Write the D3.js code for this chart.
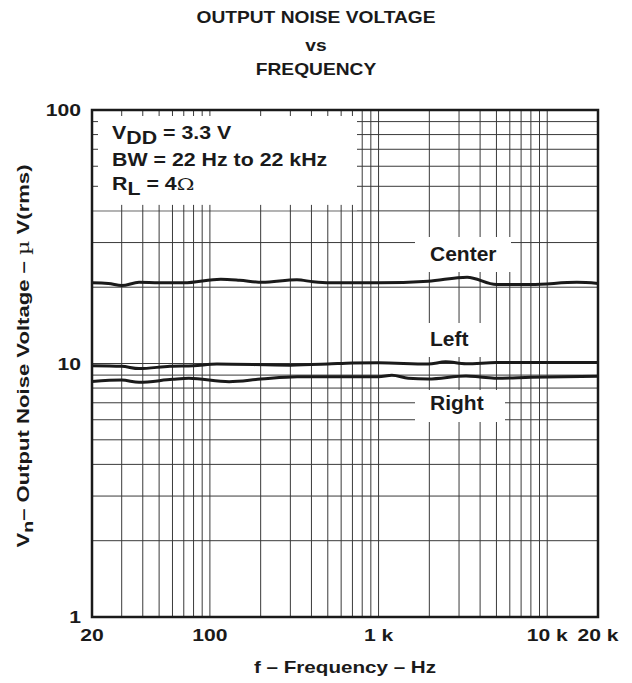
<!DOCTYPE html>
<html>
<head>
<meta charset="utf-8">
<script src="https://cdn.jsdelivr.net/npm/d3@7/dist/d3.min.js"></script>
<style>
  html, body { margin: 0; padding: 0; background: #fff; }
  svg { display: block; }
  text { font-family: "Liberation Sans", Arial, Helvetica, sans-serif; font-weight: bold; fill: #1a1a1a; }
</style>
</head>
<body>
<script>
// ---------- data ----------
const titleLines = ["OUTPUT NOISE VOLTAGE", "vs", "FREQUENCY"];
const xTickValues = [20, 100, 1000, 10000, 20000];
const xTickLabels = ["20", "100", "1 k", "10 k", "20 k"];
const yTickValues = [1, 10, 100];
const yTickLabels = ["1", "10", "100"];

const centerFreq = [20, 25, 30, 38, 50, 70, 116, 150, 204, 328, 409, 512, 1000, 1966, 3350, 5000, 8000, 15000, 20000];
const centerVal  = [20.8, 20.7, 20.3, 20.9, 20.8, 20.8, 21.5, 21.3, 20.9, 21.4, 21.0, 20.8, 20.8, 21.1, 21.9, 20.5, 20.5, 20.9, 20.7];

const leftFreq = [20, 30, 38, 58, 80, 110, 300, 500, 700, 1000, 1970, 2500, 3300, 5000, 10000, 20000];
const leftVal  = [9.8, 9.75, 9.55, 9.75, 9.8, 9.95, 9.85, 9.95, 10.05, 10.07, 9.95, 10.15, 9.98, 10.08, 10.1, 10.1];

const rightFreq = [20, 30, 38, 60, 75, 130, 200, 330, 1000, 1200, 1500, 1970, 3300, 4000, 5000, 8000, 20000];
const rightVal  = [8.5, 8.6, 8.43, 8.66, 8.74, 8.48, 8.68, 8.87, 8.87, 8.98, 8.75, 8.69, 8.93, 8.85, 8.75, 8.82, 8.9];

const seriesNames = ["Center", "Left", "Right"];

// ---------- layout ----------
const W = 632, H = 683;
const m = { left: 92, top: 110, right: 598, bottom: 617 };

const svg = d3.select("body").append("svg").attr("width", W).attr("height", H);

const x = d3.scaleLog().domain([20, 20000]).range([m.left, m.right]);
const y = d3.scaleLog().domain([1, 100]).range([m.bottom, m.top]);

const tf = (px, py, sx, rot) => `translate(${px},${py})${rot ? ` rotate(${rot})` : ""} scale(${sx},1)`;

// grid values
const xGrid = [];
[10, 100, 1000, 10000].forEach(d => { for (let k = 1; k <= 9; k++) { const v = d * k; if (v > 20 && v < 20000) xGrid.push(v); } });
const yGrid = [];
[1, 10].forEach(d => { for (let k = 1; k <= 9; k++) { const v = d * k; if (v > 1 && v < 100) yGrid.push(v); } });

const gridColor = "#3a3a3a";
const grid = svg.append("g");
grid.selectAll("line.vx").data(xGrid).join("line")
  .attr("x1", d => x(d)).attr("x2", d => x(d))
  .attr("y1", m.top).attr("y2", m.bottom)
  .attr("stroke", gridColor).attr("stroke-width", 1);
grid.selectAll("line.hy").data(yGrid).join("line")
  .attr("x1", m.left).attr("x2", m.right)
  .attr("y1", d => y(d)).attr("y2", d => y(d))
  .attr("stroke", gridColor).attr("stroke-width", 1);

// white boxes behind annotations
const legendRight = 357;
svg.append("rect").attr("x", m.left).attr("y", m.top)
  .attr("width", legendRight - m.left).attr("height", y(40) - m.top - 0.5).attr("fill", "#fff");

const labelBoxes = [
  { x0: 415, x1: 511, y0: 237, y1: 272 },
  { x0: 415, x1: 494, y0: 323, y1: 357 },
  { x0: 415, x1: 505, y0: 390, y1: 422 }
];
svg.selectAll("rect.lb").data(labelBoxes).join("rect")
  .attr("x", d => d.x0).attr("y", d => d.y0)
  .attr("width", d => d.x1 - d.x0).attr("height", d => d.y1 - d.y0)
  .attr("fill", "#fff");

// stubs inside legend box
const stub = 6;
const xIn = xGrid.filter(v => x(v) < legendRight);
svg.selectAll("line.st1").data(xIn).join("line")
  .attr("x1", d => x(d)).attr("x2", d => x(d))
  .attr("y1", m.top).attr("y2", m.top + stub)
  .attr("stroke", gridColor).attr("stroke-width", 1);
svg.selectAll("line.st2").data(xIn).join("line")
  .attr("x1", d => x(d)).attr("x2", d => x(d))
  .attr("y1", y(40) - stub).attr("y2", y(40))
  .attr("stroke", gridColor).attr("stroke-width", 1);
const yIn = yGrid.filter(v => v > 40);
svg.selectAll("line.st3").data(yIn).join("line")
  .attr("x1", m.left).attr("x2", m.left + stub)
  .attr("y1", d => y(d)).attr("y2", d => y(d))
  .attr("stroke", gridColor).attr("stroke-width", 1);

// frame
svg.append("rect").attr("x", m.left).attr("y", m.top)
  .attr("width", m.right - m.left).attr("height", m.bottom - m.top)
  .attr("fill", "none").attr("stroke", "#1a1a1a").attr("stroke-width", 2.5);

// curves
const line = d3.line().x(d => x(d[0])).y(d => y(d[1])).curve(d3.curveMonotoneX);
const series = [
  d3.zip(centerFreq, centerVal),
  d3.zip(leftFreq, leftVal),
  d3.zip(rightFreq, rightVal)
];
svg.selectAll("path.s").data(series).join("path")
  .attr("d", line).attr("fill", "none")
  .attr("stroke", "#1a1a1a").attr("stroke-width", 3).attr("stroke-linejoin", "round");

// series labels
const labelPos = [[430, 261], [430, 346], [430, 410]];
svg.selectAll("text.sl").data(seriesNames).join("text")
  .attr("transform", (d, i) => tf(labelPos[i][0], labelPos[i][1], 1.05))
  .attr("font-size", 20).text(d => d);

// legend text
const lsx = 1.22;
const lg = svg.append("g").attr("font-size", 17.5);
const t1 = lg.append("text").attr("transform", tf(112, 139, lsx));
t1.append("tspan").text("V");
t1.append("tspan").attr("dy", 5).text("DD");
t1.append("tspan").attr("dy", -5).text(" = 3.3 V");
lg.append("text").attr("transform", tf(112, 166, lsx)).text("BW = 22 Hz to 22 kHz");
const t3 = lg.append("text").attr("transform", tf(112, 190, lsx));
t3.append("tspan").text("R");
t3.append("tspan").attr("dy", 5).text("L");
t3.append("tspan").attr("dy", -5).text(" = 4");
t3.append("tspan").style("font-weight", "normal").attr("font-family", "DejaVu Serif").text("Ω");

// title
svg.selectAll("text.title").data(titleLines).join("text")
  .attr("transform", (d, i) => tf(316, [23, 51, 75][i], 1.2))
  .attr("text-anchor", "middle").attr("font-size", 16).text(d => d);

// x tick labels
svg.selectAll("text.xt").data(xTickValues).join("text")
  .attr("transform", d => tf(x(d), 641, 1.28))
  .attr("text-anchor", "middle").attr("font-size", 16.5)
  .text((d, i) => xTickLabels[i]);

// y tick labels
svg.selectAll("text.yt").data(yTickValues).join("text")
  .attr("transform", d => tf(81, y(d) + 6, 1.28))
  .attr("text-anchor", "end").attr("font-size", 16.5)
  .text((d, i) => yTickLabels[i]);

// axis titles
svg.append("text").attr("transform", tf(345, 673, 1.25))
  .attr("text-anchor", "middle").attr("font-size", 16.5).text("f – Frequency – Hz");

const yl = svg.append("text").attr("transform", tf(29, 356, 1.3, -90))
  .attr("text-anchor", "middle").attr("font-size", 17);
yl.append("tspan").text("V");
yl.append("tspan").attr("dy", 4).attr("font-size", 15).text("n");
yl.append("tspan").attr("dy", -4).text("– Output Noise Voltage –  ");
yl.append("tspan").style("font-weight", "normal").attr("font-family", "DejaVu Serif").text("µ");
yl.append("tspan").text(" V(rms)");
</script>
</body>
</html>
